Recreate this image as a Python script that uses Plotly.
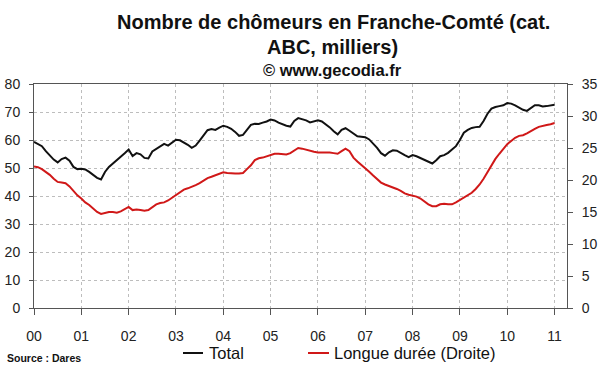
import plotly.graph_objects as go

# Monthly data, Jan 2000 -> Jan 2011 (thousands)
start_year = 2000
total = [
    59.3, 58.6, 57.8, 56.0, 54.4, 53.0, 52.0, 53.2, 53.7, 52.6, 50.4, 49.6,  # 2000
    49.7, 49.5, 48.6, 47.6, 46.5, 45.9, 48.6, 50.4, 51.6, 52.6, 54.0, 55.3,  # 2001
    56.6, 54.3, 55.3, 54.9, 53.6, 53.4, 55.9, 56.9, 57.6, 58.6, 58.0, 59.0,  # 2002
    60.1, 59.9, 59.2, 58.3, 57.2, 58.0, 59.8, 61.5, 63.5, 63.9, 63.6, 64.4,  # 2003
    65.1, 64.7, 64.0, 62.9, 61.5, 61.8, 63.6, 65.4, 65.8, 65.7, 66.2, 66.6,  # 2004
    67.3, 67.0, 66.2, 65.6, 65.1, 64.8, 66.8, 67.8, 67.4, 67.0, 66.3, 66.6,  # 2005
    67.0, 66.6, 65.6, 64.5, 63.1, 62.0, 63.6, 64.2, 63.3, 62.4, 61.3, 61.2,  # 2006
    61.0, 60.2, 58.8, 57.2, 55.3, 54.4, 55.6, 56.3, 56.2, 55.3, 54.6, 53.9,  # 2007
    54.6, 54.2, 53.5, 52.9, 52.2, 51.6, 52.8, 54.2, 54.6, 55.4, 56.6, 57.8,  # 2008
    60.0, 62.6, 63.6, 64.3, 64.6, 64.7, 66.8, 69.4, 71.2, 71.8, 72.1, 72.4,  # 2009
    73.2, 73.0, 72.4, 71.6, 70.8, 70.4, 71.3, 72.4, 72.4, 72.0, 72.1, 72.3,  # 2010
    72.6,                                                                    # 2011
]
longue = [
    22.1, 22.0, 21.7, 21.3, 20.8, 20.2, 19.7, 19.6, 19.5, 19.0, 18.3, 17.6,  # 2000
    17.1, 16.5, 16.1, 15.6, 15.0, 14.7, 14.9, 15.0, 15.0, 14.9, 15.1, 15.4,  # 2001
    15.8, 15.3, 15.4, 15.3, 15.2, 15.3, 15.8, 16.2, 16.4, 16.5, 16.8, 17.2,  # 2002
    17.6, 18.1, 18.5, 18.7, 18.9, 19.2, 19.5, 19.9, 20.3, 20.5, 20.7, 20.9,  # 2003
    21.2, 21.1, 21.0, 21.0, 21.0, 21.1, 21.7, 22.3, 23.1, 23.4, 23.5, 23.7,  # 2004
    23.9, 24.1, 24.1, 24.0, 24.0, 24.2, 24.6, 25.0, 24.9, 24.7, 24.6, 24.4,  # 2005
    24.3, 24.3, 24.4, 24.3, 24.2, 24.1, 24.5, 24.9, 24.5, 23.5, 22.9, 22.4,  # 2006
    21.9, 21.3, 20.7, 20.1, 19.6, 19.3, 19.1, 18.9, 18.6, 18.3, 17.9, 17.7,  # 2007
    17.6, 17.4, 17.1, 16.6, 16.2, 15.9, 15.9, 16.2, 16.3, 16.2, 16.2, 16.5,  # 2008
    16.9, 17.3, 17.6, 18.0, 18.6, 19.3, 20.2, 21.3, 22.3, 23.3, 24.1, 24.9,  # 2009
    25.6, 26.1, 26.6, 26.9, 27.0, 27.3, 27.7, 28.0, 28.3, 28.5, 28.6, 28.7,  # 2010
    28.9,                                                                    # 2011
]
year_ticks = list(range(2000, 2012))
year_labels = ["00", "01", "02", "03", "04", "05", "06", "07", "08", "09", "10", "11"]
left_ticks = [0, 10, 20, 30, 40, 50, 60, 70, 80]
right_ticks = [0, 5, 10, 15, 20, 25, 30, 35]

months = [start_year + i / 12 for i in range(len(total))]

FONT = "Liberation Sans"
AX = "#555555"
GRID = "#bdbdbd"
BLACK = "#111111"
RED = "#d01818"
XR = [2000, 2011.263]

fig = go.Figure()
fig.add_trace(go.Scatter(x=months, y=total, mode="lines", name="Total",
                         line=dict(color=BLACK, width=2), xaxis="x", yaxis="y",
                         showlegend=False))
fig.add_trace(go.Scatter(x=months, y=longue, mode="lines", name="Longue durée (Droite)",
                         line=dict(color=RED, width=2), xaxis="x", yaxis="y2",
                         showlegend=False))

fig.update_layout(
    width=600, height=372,
    margin=dict(l=34, r=33, t=84, b=64, autoexpand=False),
    paper_bgcolor="white", plot_bgcolor="white",
    font=dict(family=FONT, color="#222222", size=14),
    xaxis=dict(range=XR, tickvals=year_ticks, ticktext=year_labels, automargin=False,
               showline=True, linecolor=AX, linewidth=1, mirror=True,
               ticks="outside", ticklen=6, tickcolor=AX, tickwidth=1,
               ticklabelstandoff=9,
               showgrid=True, gridcolor=GRID, griddash="dot", gridwidth=1,
               zeroline=False, tickfont=dict(size=14, family=FONT, color="#222222")),
    xaxis2=dict(range=XR, tickvals=year_ticks, overlaying="x", anchor="y", automargin=False,
                side="bottom", ticks="inside", ticklen=6, tickcolor=AX,
                showticklabels=False, showgrid=False, showline=False, zeroline=False),
    yaxis=dict(range=[0, 80], tickvals=left_ticks, automargin=False,
               showline=True, linecolor=AX, linewidth=1,
               ticks="outside", ticklen=4, tickcolor=AX, tickwidth=1,
               ticklabelstandoff=6,
               showgrid=True, gridcolor=GRID, griddash="dot", gridwidth=1,
               zeroline=False, tickfont=dict(size=14, family=FONT, color="#222222")),
    yaxis2=dict(range=[0, 35], tickvals=right_ticks, overlaying="y", side="right",
                anchor="x", showline=True, linecolor=AX, linewidth=1, automargin=False,
                ticks="outside", ticklen=5, tickcolor=AX, tickwidth=1,
                ticklabelstandoff=6, showgrid=False, zeroline=False,
                tickfont=dict(size=14, family=FONT, color="#222222")),
    yaxis3=dict(range=[0, 80], tickvals=left_ticks, overlaying="y", side="left",
                anchor="x", ticks="inside", ticklen=4, tickcolor=AX, automargin=False,
                showticklabels=False, showgrid=False, showline=False, zeroline=False),
    yaxis4=dict(range=[0, 35], tickvals=right_ticks, overlaying="y", side="right",
                anchor="x", ticks="inside", ticklen=5, tickcolor=AX, automargin=False,
                showticklabels=False, showgrid=False, showline=False, zeroline=False),
)

# pixel -> paper helpers (plot area x: 34..567, y: 84..308)
def px(xp):
    return (xp - 34) / 533.0

def py(yp):
    return (308 - yp) / 224.0

annotations = [
    dict(text="<b>Nombre de chômeurs en Franche-Comté (cat.</b>", x=px(333), y=py(22),
         font=dict(size=20, family=FONT, color="#111111")),
    dict(text="<b>ABC, milliers)</b>", x=px(332), y=py(47),
         font=dict(size=20, family=FONT, color="#111111")),
    dict(text="<b>© www.gecodia.fr</b>", x=px(332), y=py(70),
         font=dict(size=16.5, family=FONT, color="#111111")),
]
for a in annotations:
    a.update(xref="paper", yref="paper", xanchor="center", yanchor="middle", showarrow=False)

legend_items = [("Total", BLACK, 183, 203, 207), ("Longue durée (Droite)", RED, 308, 329, 332)]
shapes = []
for name, col, x0, x1, xt in legend_items:
    shapes.append(dict(type="line", xref="paper", yref="paper", x0=px(x0), x1=px(x1),
                       y0=py(353), y1=py(353), line=dict(color=col, width=2)))
    annotations.append(dict(text=name, x=px(xt), y=py(353), xref="paper", yref="paper",
                            xanchor="left", yanchor="middle", showarrow=False,
                            font=dict(size=16.5, family=FONT, color="#111111")))
annotations.append(dict(text="<b>Source : Dares</b>", x=px(5), y=py(358), xref="paper",
                        yref="paper", xanchor="left", yanchor="middle", showarrow=False,
                        font=dict(size=10.5, family=FONT, color="#111111")))

fig.update_layout(annotations=annotations, shapes=shapes)
fig.write_html("out.html", config={"displayModeBar": False},
               post_script="document.body.style.margin='0';document.body.style.overflow='hidden';")
